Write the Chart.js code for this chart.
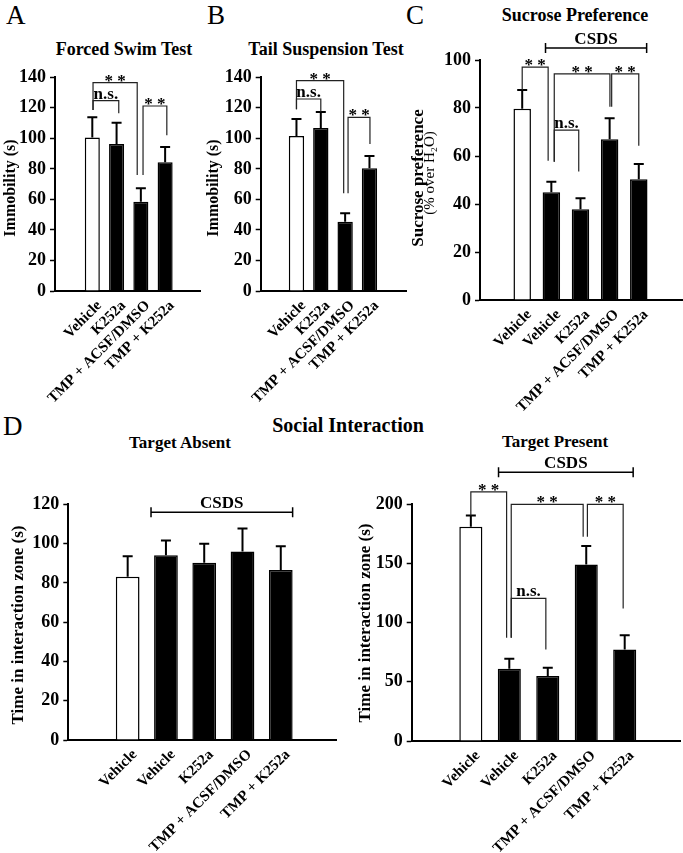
<!DOCTYPE html>
<html>
<head>
<meta charset="utf-8">
<script src="https://cdn.jsdelivr.net/npm/chart.js@4.4.0/dist/chart.umd.min.js"></script>
<style>
  body { margin: 0; background: #fff; }
  #fig { position: relative; width: 683px; height: 853px; overflow: hidden;
         font-family: "Liberation Serif", "Times New Roman", serif; color: #000; }
  #fig canvas { position: absolute; }
  .ttl { position: absolute; font-weight: bold; white-space: nowrap; line-height: 1;
         transform: translateX(-50%); }
  .let { position: absolute; font-size: 27px; line-height: 1; }
</style>
</head>
<body>
<div id="fig">
  <div class="let" style="left:6px;top:2px">A</div>
  <div class="let" style="left:207px;top:2px">B</div>
  <div class="let" style="left:406px;top:2px">C</div>
  <div class="let" style="left:3px;top:413px">D</div>
  <div class="ttl" style="left:124px;top:40px;font-size:18px">Forced Swim Test</div>
  <div class="ttl" style="left:326px;top:40px;font-size:18px">Tail Suspension Test</div>
  <div class="ttl" style="left:575px;top:6px;font-size:18px">Sucrose Preference</div>
  <div class="ttl" style="left:348px;top:415px;font-size:20px">Social Interaction</div>
  <div class="ttl" style="left:180px;top:434px;font-size:17px">Target Absent</div>
  <div class="ttl" style="left:555px;top:433px;font-size:17px">Target Present</div>
</div>
<script>
const FONT = '"Liberation Serif", "Times New Roman", serif';

// groups
const labelsAB = ['Vehicle', 'K252a', 'TMP + ACSF/DMSO', 'TMP + K252a'];
const labelsCD = ['Vehicle', 'Vehicle', 'K252a', 'TMP + ACSF/DMSO', 'TMP + K252a'];

// A - forced swim test, immobility (s)
const fstMean = [100.5, 96.3, 58.5, 84.3];
const fstSem = [13.3, 14, 8.8, 10.1];
// B - tail suspension test, immobility (s)
const tstMean = [101.6, 106.8, 45.4, 80.4];
const tstSem = [11.1, 10.5, 5.5, 8.1];
// C - sucrose preference (%)
const sucMean = [79.7, 44.9, 37.8, 67, 50.3];
const sucSem = [7.8, 4.4, 4.6, 8.7, 6.4];
// D - social interaction, time in zone (s)
const absentMean = [83.1, 94.1, 90.2, 96, 86.5];
const absentSem = [10.5, 7.5, 9.7, 11.7, 12.2];
const presentMean = [181, 61, 54.9, 149.2, 77.4];
const presentSem = [9.6, 8.5, 7, 15.5, 11.9];

// significance brackets: x1,x2 group index, y bracket top, y1/y2 leg ends, t text
const fstSig = [
  { x1: 0.03, x2: 1.85, y: 136.5, y1: 118.6, y2: 76, t: '* *' },
  { x1: 0.03, x2: 1.09, y: 124.7, y1: 118.6, y2: 116.5, t: 'n.s.' },
  { x1: 2.09, x2: 3.07, y: 121.2, y1: 76, y2: 102, t: '* *' }
];
const tstSig = [
  { x1: 0, x2: 1.94, y: 137.8, y1: 119, y2: 64, t: '* *' },
  { x1: 0, x2: 1.0, y: 125.8, y1: 119, y2: 117.5, t: 'n.s.' },
  { x1: 2.12, x2: 3.02, y: 113.8, y1: 64, y2: 96.3, t: '* *' }
];
const sucSig = [
  { x1: 0, x2: 0.89, y: 97, y1: 87.5, y2: 58, t: '* *' },
  { x1: 1.1, x2: 3.01, y: 94.2, y1: 57.6, y2: 80.5, t: '* *' },
  { x1: 3.07, x2: 4.0, y: 94.2, y1: 80.5, y2: 64.3, t: '* *' },
  { x1: 1.1, x2: 1.94, y: 70.8, y1: 57.6, y2: 53.5, t: 'n.s.' }
];
const presentSig = [
  { x1: 0, x2: 0.93, y: 210.5, y1: 190.6, y2: 87.2, t: '* *' },
  { x1: 1.05, x2: 2.92, y: 200, y1: 87.2, y2: 172.5, t: '* *' },
  { x1: 3.03, x2: 3.96, y: 200, y1: 172.5, y2: 112, t: '* *' },
  { x1: 1.05, x2: 1.95, y: 120.5, y1: 87.2, y2: 77.4, t: 'n.s.' }
];

const fig = document.getElementById('fig');

function extras(o) {
  return {
    id: 'extras',
    afterDatasetsDraw(chart) {
      const ctx = chart.ctx, xs = chart.scales.x, ys = chart.scales.y;
      const bars = chart.getDatasetMeta(0).data;
      ctx.save();
      // error bars (upper only)
      ctx.strokeStyle = '#000';
      ctx.lineWidth = 2;
      bars.forEach((b, i) => {
        const top = ys.getPixelForValue(o.means[i] + o.sem[i]);
        ctx.beginPath();
        ctx.moveTo(b.x, b.y);
        ctx.lineTo(b.x, top);
        ctx.moveTo(b.x - 5, top);
        ctx.lineTo(b.x + 5, top);
        ctx.stroke();
      });
      // brackets
      ctx.lineWidth = 1.2;
      ctx.strokeStyle = '#222';
      ctx.fillStyle = '#000';
      ctx.textAlign = 'center';
      ctx.textBaseline = 'alphabetic';
      (o.sig || []).forEach(s => {
        const x1 = xs.getPixelForValue(s.x1), x2 = xs.getPixelForValue(s.x2);
        const yt = ys.getPixelForValue(s.y);
        ctx.beginPath();
        ctx.moveTo(x1, ys.getPixelForValue(s.y1));
        ctx.lineTo(x1, yt);
        ctx.lineTo(x2, yt);
        ctx.lineTo(x2, ys.getPixelForValue(s.y2));
        ctx.stroke();
        ctx.font = 'bold 17px ' + FONT;
        ctx.fillText(s.t, (x1 + x2) / 2, s.t === 'n.s.' ? yt - 2 : yt + 3);
      });
      if (o.csds) {
        const c = o.csds;
        const x1 = xs.getPixelForValue(c.x1), x2 = xs.getPixelForValue(c.x2);
        const yy = ys.getPixelForValue(c.y);
        ctx.strokeStyle = '#000';
        ctx.lineWidth = 1.5;
        ctx.beginPath();
        ctx.moveTo(x1, yy); ctx.lineTo(x2, yy);
        ctx.moveTo(x1, yy - 5); ctx.lineTo(x1, yy + 5);
        ctx.moveTo(x2, yy - 5); ctx.lineTo(x2, yy + 5);
        ctx.stroke();
        ctx.font = 'bold 17px ' + FONT;
        ctx.fillText('CSDS', (x1 + x2) / 2, yy - 4);
      }
      // y axis title(s)
      o.yTitles.forEach(t => {
        ctx.save();
        ctx.translate(t.x - o.box[0], t.y - o.box[1]);
        ctx.rotate(-Math.PI / 2);
        ctx.font = t.font + ' ' + FONT;
        ctx.textBaseline = 'middle';
        ctx.fillText(t.text, 0, 0);
        ctx.restore();
      });
      ctx.restore();
    }
  };
}

function panel(o) {
  const [bl, bt, bw, bh] = o.box;
  const [al, at, ar, ab] = o.area;
  const cv = document.createElement('canvas');
  cv.width = bw; cv.height = bh;
  cv.style.left = bl + 'px'; cv.style.top = bt + 'px';
  fig.appendChild(cv);
  const tickFont = { family: FONT, size: 18, weight: 'bold' };
  const labelFont = { family: FONT, size: 15, weight: 'bold' };
  return new Chart(cv, {
    type: 'bar',
    data: {
      datasets: [{
        data: o.means.map((v, i) => ({ x: i, y: v })),
        backgroundColor: o.means.map((_, i) => i === 0 ? '#fff' : '#000'),
        borderColor: '#000',
        borderWidth: 1.5,
        categoryPercentage: o.bar,
        barPercentage: 1
      }]
    },
    options: {
      responsive: false,
      animation: false,
      devicePixelRatio: 1,
      layout: { padding: { top: at - bt, right: bl + bw - ar, left: 0, bottom: 0 } },
      plugins: { legend: { display: false }, tooltip: { enabled: false } },
      scales: {
        x: {
          type: 'linear',
          min: o.xr[0],
          max: o.xr[1],
          afterFit: s => { s.height = bt + bh - ab; },
          afterBuildTicks: s => { s.ticks = o.labels.map((_, i) => ({ value: i })); },
          grid: { display: false, drawTicks: false },
          border: { display: true, color: '#000', width: 2 },
          ticks: {
            autoSkip: false, minRotation: 45, maxRotation: 45, padding: 6, labelOffset: 7,
            color: '#000', font: labelFont,
            callback: v => o.labels[v]
          }
        },
        y: {
          min: 0,
          max: o.yMax,
          afterFit: s => { s.width = al - bl; },
          ticks: { stepSize: o.yStep, padding: 4, color: '#000', font: tickFont },
          grid: { drawOnChartArea: false, tickLength: 5, tickColor: '#000', tickWidth: 1.5 },
          border: { display: true, color: '#000', width: 2 }
        }
      }
    },
    plugins: [extras(o)]
  });
}

panel({
  box: [0, 50, 215, 370], area: [55, 77.3, 200, 291],
  labels: labelsAB, means: fstMean, sem: fstSem, sig: fstSig,
  xr: [-0.79, 3.69], bar: 0.62, yMax: 140, yStep: 20,
  yTitles: [{ text: 'Immobility (s)', x: 11, y: 188, font: 'bold 16px' }]
});
panel({
  box: [200, 50, 215, 370], area: [260.7, 77.3, 406.7, 291],
  labels: labelsAB, means: tstMean, sem: tstSem, sig: tstSig,
  xr: [-0.72, 3.78], bar: 0.63, yMax: 140, yStep: 20,
  yTitles: [{ text: 'Immobility (s)', x: 214, y: 188, font: 'bold 16px' }]
});
panel({
  box: [395, 20, 288, 410], area: [480, 60, 682, 300],
  labels: labelsCD, means: sucMean, sem: sucSem, sig: sucSig,
  csds: { x1: 0.8, x2: 4.27, y: 105 },
  xr: [-0.755, 4.79], bar: 0.6, yMax: 100, yStep: 20,
  yTitles: [
    { text: 'Sucrose preference', x: 419, y: 178, font: 'bold 17px' },
    { text: '(% over H\u2082O)', x: 430, y: 173, font: '15px' }
  ]
});
panel({
  box: [0, 450, 345, 403], area: [68.3, 504.3, 336.7, 740],
  labels: labelsCD, means: absentMean, sem: absentSem, sig: [],
  csds: { x1: 0.61, x2: 4.31, y: 115.9 },
  xr: [-0.85, 4.76], bar: 0.62, yMax: 120, yStep: 20,
  yTitles: [{ text: 'Time in interaction zone (s)', x: 19, y: 625, font: 'bold 17px' }]
});
panel({
  box: [340, 450, 343, 403], area: [411.7, 504.3, 680, 741],
  labels: labelsCD, means: presentMean, sem: presentSem, sig: presentSig,
  csds: { x1: 0.72, x2: 4.22, y: 227 },
  xr: [-0.84, 4.74], bar: 0.6, yMax: 200, yStep: 50,
  yTitles: [{ text: 'Time in interaction zone (s)', x: 366, y: 623, font: 'bold 17px' }]
});
</script>
</body>
</html>
